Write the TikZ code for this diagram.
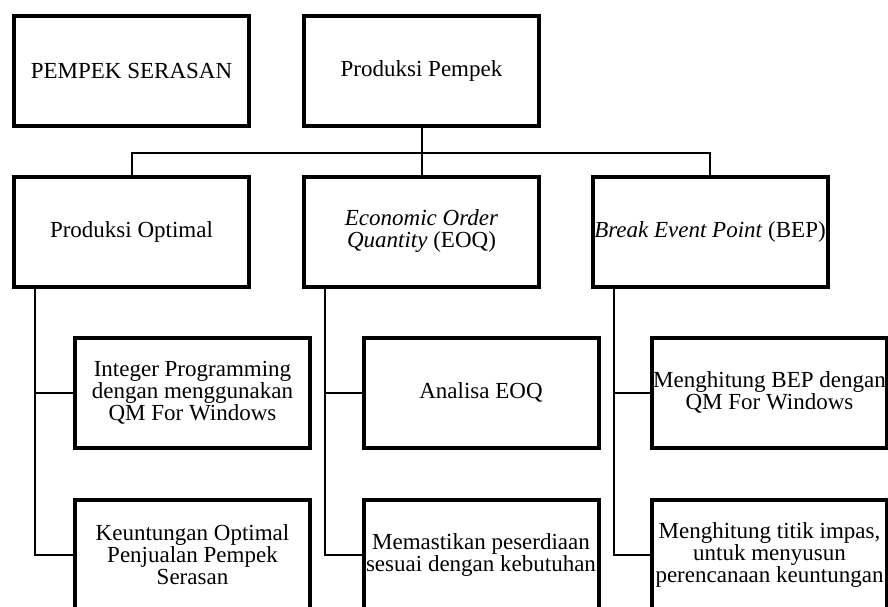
\documentclass[tikz,border=0pt]{standalone}
\usepackage{fontspec}
\setmainfont{Liberation Serif}
\usetikzlibrary{positioning}
\tikzset{
	box/.style={draw, line width=4pt, minimum width=235pt, minimum height=110pt,
		align=center, inner sep=0pt, font=\fontsize{23}{22}\selectfont},
	link/.style={line width=2pt}
}

\begin{document}
\begin{tikzpicture}[x=1pt,y=-1pt]
	% frame of the picture
	\clip (0,0) rectangle (888,607);
	
	% top row
	\node[box] (ps) at (131.5,71) {PEMPEK SERASAN};
	\node[box] (pp) at (421.5,71) {Produksi Pempek};
	
	% second row
	\node[box] (pa) at (131.5,231.5) {Produksi Optimal};
	\node[box] (pb) at (421.5,231.5) {\textit{Economic Order}\\\textit{Quantity} (EOQ)};
	\node[box] (pc) at (710,231.5) {\textit{Break Event Point} (BEP)};
	
	% third row
	\node[box] (pa1) at (192.5,392.5) {Integer Programming\\dengan menggunakan\\QM For Windows};
	\node[box] (pb1) at (481,392.5) {Analisa EOQ};
	\node[box] (pc1) at (769.5,392.5) {Menghitung BEP dengan\\QM For Windows};
	
	% fourth row
	\node[box] (pa2) at (192.5,554.5) {Keuntungan Optimal\\Penjualan Pempek\\Serasan};
	\node[box] (pb2) at (481,554.5) {Memastikan peserdiaan\\sesuai dengan kebutuhan};
	\node[box] (pc2) at (769.5,554.5) {Menghitung titik impas,\\untuk menyusun\\perencanaan keuntungan};
	
	% links from the top
	\coordinate (bus) at (0,153);
	\draw[link] (pp.south) -- (pb.north);
	\draw[link] (pa.north) |- (pc.north |- bus) -- (pc.north);
	
	% links to the lower rows
	\foreach \p in {pa,pb,pc}{
		\draw[link] ([xshift=23pt]\p.south west) |- (\p1.west);
		\draw[link] ([xshift=23pt]\p.south west) |- (\p2.west);
	}
\end{tikzpicture}
\end{document}
